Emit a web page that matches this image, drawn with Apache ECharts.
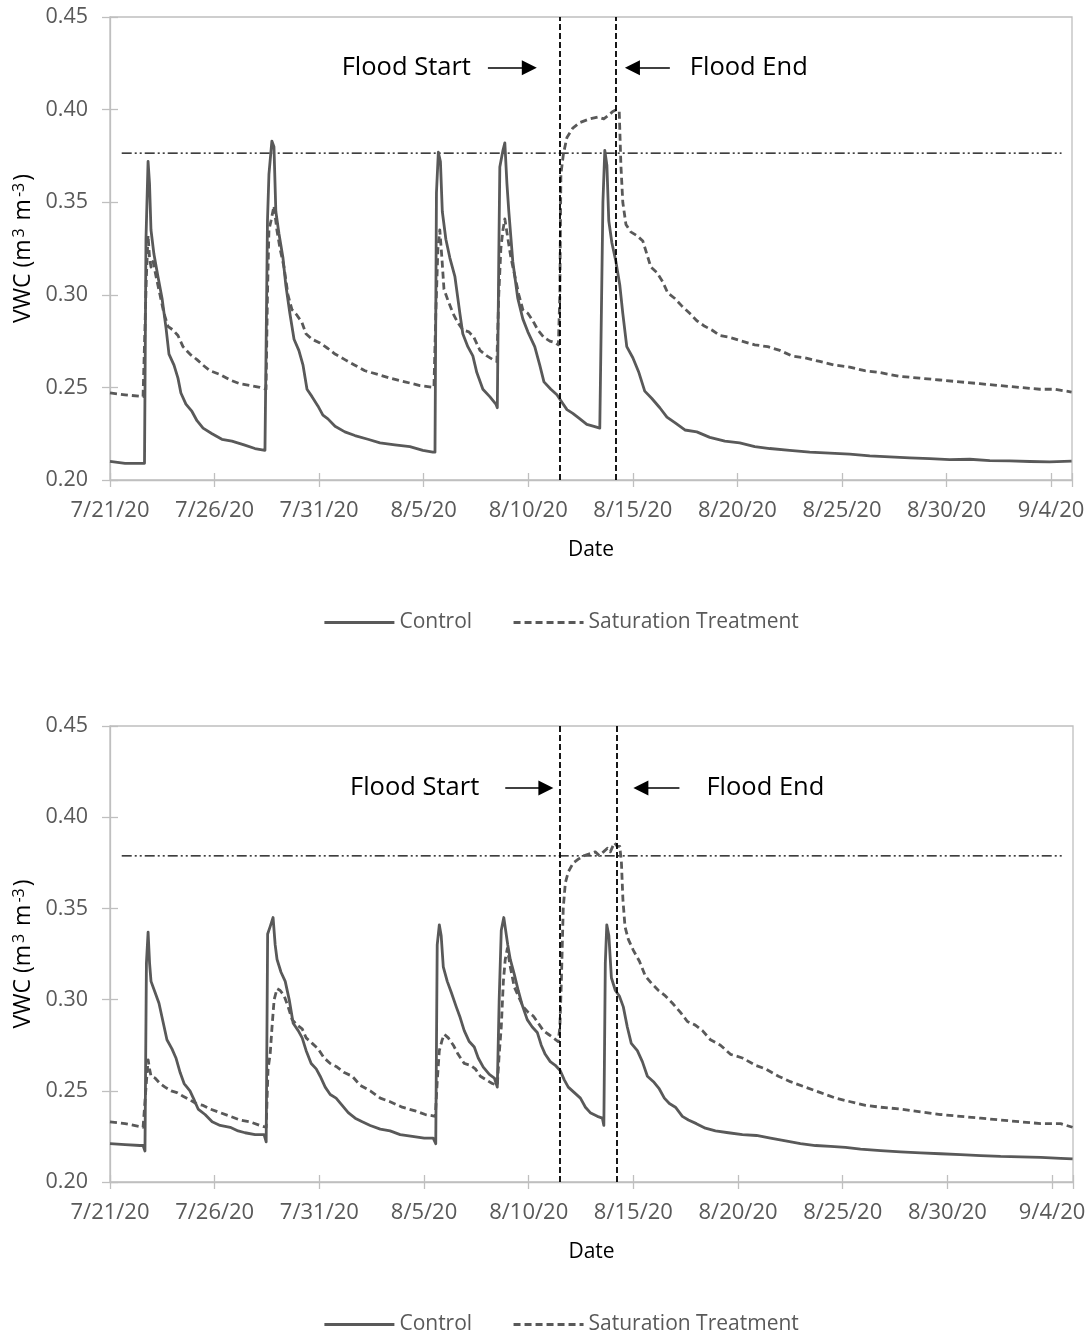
<!DOCTYPE html>
<html>
<head>
<meta charset="utf-8">
<script src="https://cdn.jsdelivr.net/npm/echarts@6/dist/echarts.min.js"></script>
<style>
html,body{margin:0;padding:0;background:#fff;}
#chart{width:1091px;height:1333px;}
</style>
</head>
<body>
<div id="chart"></div>
<script>
// ---------- DATA (x = days since 7/21/20 00:00, y = VWC m3 m-3) ----------
const xTickLabels = ['7/21/20','7/26/20','7/31/20','8/5/20','8/10/20','8/15/20','8/20/20','8/25/20','8/30/20','9/4/20'];
const seriesNames = ['Control', 'Saturation Treatment'];
const floodDays = [21.5, 24.2];            // flood start / flood end
const saturationLevel = [0.3765, 0.3788];  // top panel, bottom panel
const refLineDays = [0.56, 45.5];

const topControl = [
[0,0.210],[0.72,0.209],[1.53,0.209],[1.65,0.209],[1.72,0.33],[1.82,0.372],[1.89,0.36],[1.96,0.335],[2.10,0.322],[2.29,0.31],[2.49,0.298],[2.68,0.282],[2.82,0.268],[3.06,0.262],[3.25,0.255],[3.39,0.247],[3.63,0.241],[3.92,0.237],[4.16,0.232],[4.45,0.228],[4.88,0.225],[5.35,0.222],[5.83,0.221],[6.41,0.219],[6.93,0.217],[7.41,0.216],
[7.48,0.216],[7.53,0.34],[7.60,0.365],[7.74,0.383],[7.84,0.38],[7.93,0.345],[8.08,0.333],[8.27,0.32],[8.41,0.305],[8.60,0.29],[8.80,0.276],[9.03,0.27],[9.23,0.262],[9.42,0.249],[9.66,0.245],[9.94,0.240],[10.18,0.235],[10.42,0.233],[10.76,0.229],[11.23,0.226],[11.71,0.224],[12.33,0.222],[12.91,0.220],[13.62,0.219],[14.34,0.218],[14.96,0.216],[15.44,0.215],
[15.54,0.215],[15.61,0.355],[15.70,0.377],[15.80,0.372],[15.89,0.345],[16.06,0.33],[16.25,0.32],[16.49,0.31],[16.73,0.29],[16.87,0.279],[17.11,0.272],[17.35,0.267],[17.54,0.258],[17.83,0.249],[18.16,0.245],[18.45,0.241],[18.52,0.239],
[18.59,0.32],[18.64,0.369],[18.79,0.378],[18.88,0.382],[18.98,0.36],[19.07,0.345],[19.26,0.318],[19.50,0.298],[19.74,0.287],[19.98,0.280],[20.31,0.272],[20.55,0.262],[20.75,0.253],[21.08,0.249],[21.37,0.246],[21.61,0.242],[21.85,0.238],[22.13,0.236],[22.47,0.233],[22.80,0.230],[23.14,0.229],[23.42,0.228],[23.49,0.227],
[23.57,0.35],[23.66,0.378],[23.76,0.37],[23.85,0.34],[24.00,0.328],[24.19,0.318],[24.38,0.305],[24.52,0.29],[24.71,0.272],[25.00,0.266],[25.29,0.258],[25.57,0.248],[25.91,0.244],[26.29,0.239],[26.63,0.234],[27.01,0.231],[27.49,0.227],[28.06,0.226],[28.68,0.223],[29.40,0.221],[30.11,0.220],[30.83,0.218],[31.55,0.217],[32.50,0.216],[33.46,0.215],[34.42,0.2145],[35.37,0.214],[36.33,0.213],[37.28,0.2125],[38.24,0.212],[39.20,0.2115],[40.15,0.211],[41.11,0.2112],[42.07,0.2105],[43.02,0.2103],[43.98,0.210],[44.93,0.2098],[45.98,0.2102]
];

const topSaturation = [
[0,0.247],[0.72,0.246],[1.58,0.245],[1.67,0.246],[1.74,0.31],[1.82,0.332],[1.89,0.32],[1.96,0.315],[2.06,0.318],[2.20,0.31],[2.39,0.30],[2.58,0.29],[2.77,0.283],[3.01,0.281],[3.25,0.278],[3.49,0.272],[3.82,0.268],[4.16,0.265],[4.45,0.262],[4.78,0.259],[5.26,0.257],[5.74,0.254],[6.21,0.252],[6.69,0.251],[7.17,0.250],[7.46,0.249],
[7.53,0.30],[7.60,0.335],[7.70,0.34],[7.84,0.348],[7.98,0.335],[8.13,0.325],[8.32,0.315],[8.51,0.30],[8.70,0.292],[8.94,0.289],[9.18,0.285],[9.37,0.279],[9.66,0.276],[10.04,0.274],[10.42,0.271],[10.76,0.268],[11.23,0.265],[11.71,0.262],[12.19,0.259],[12.81,0.257],[13.38,0.255],[14.10,0.253],[14.82,0.251],[15.49,0.250],
[15.58,0.29],[15.68,0.325],[15.77,0.335],[15.87,0.32],[15.97,0.303],[16.16,0.297],[16.40,0.29],[16.63,0.285],[16.87,0.281],[17.16,0.28],[17.40,0.277],[17.69,0.27],[18.02,0.267],[18.31,0.265],[18.50,0.264],
[18.59,0.30],[18.69,0.325],[18.79,0.335],[18.88,0.341],[19.03,0.33],[19.17,0.32],[19.36,0.31],[19.55,0.30],[19.74,0.292],[19.98,0.29],[20.22,0.286],[20.46,0.281],[20.75,0.277],[21.03,0.275],[21.32,0.274],[21.44,0.273],
[21.51,0.30],[21.56,0.365],[21.68,0.376],[21.85,0.385],[22.13,0.390],[22.47,0.393],[22.94,0.395],[23.33,0.396],[23.61,0.395],[23.85,0.397],[24.04,0.399],[24.23,0.400],[24.35,0.399],[24.43,0.37],[24.52,0.35],[24.67,0.338],[24.90,0.334],[25.19,0.332],[25.48,0.329],[25.67,0.322],[25.86,0.315],[26.15,0.312],[26.43,0.307],[26.67,0.301],[27.01,0.298],[27.34,0.294],[27.72,0.290],[28.06,0.286],[28.44,0.283],[28.78,0.281],[29.16,0.278],[29.64,0.277],[30.21,0.275],[30.83,0.273],[31.45,0.272],[32.03,0.270],[32.60,0.267],[33.22,0.266],[33.94,0.264],[34.66,0.262],[35.37,0.261],[36.09,0.259],[36.81,0.258],[37.76,0.256],[38.72,0.255],[39.67,0.254],[40.63,0.253],[41.59,0.252],[42.54,0.251],[43.50,0.250],[44.46,0.249],[45.17,0.249],[45.98,0.2475]
];

const bottomControl = [
[0,0.221],[0.72,0.2205],[1.43,0.220],[1.58,0.220],[1.67,0.217],[1.74,0.32],[1.82,0.337],[1.89,0.32],[1.96,0.31],[2.15,0.304],[2.34,0.298],[2.53,0.288],[2.72,0.278],[2.96,0.273],[3.15,0.268],[3.35,0.26],[3.54,0.254],[3.82,0.25],[4.02,0.245],[4.21,0.24],[4.54,0.237],[4.88,0.233],[5.26,0.231],[5.74,0.230],[6.12,0.228],[6.45,0.227],[6.93,0.226],[7.36,0.226],[7.46,0.222],
[7.53,0.336],[7.65,0.340],[7.79,0.345],[7.89,0.33],[7.98,0.322],[8.17,0.315],[8.37,0.31],[8.56,0.30],[8.75,0.287],[8.99,0.283],[9.18,0.279],[9.37,0.272],[9.61,0.265],[9.85,0.262],[10.04,0.258],[10.28,0.252],[10.52,0.248],[10.80,0.246],[11.09,0.242],[11.38,0.238],[11.71,0.235],[12.05,0.233],[12.43,0.231],[12.91,0.229],[13.38,0.228],[13.86,0.226],[14.44,0.225],[15.01,0.224],[15.44,0.224],[15.56,0.221],
[15.63,0.33],[15.73,0.341],[15.82,0.335],[15.92,0.318],[16.11,0.31],[16.30,0.304],[16.54,0.296],[16.73,0.29],[16.92,0.283],[17.16,0.277],[17.40,0.274],[17.59,0.268],[17.83,0.263],[18.12,0.259],[18.36,0.257],[18.50,0.252],
[18.59,0.30],[18.69,0.338],[18.81,0.345],[18.90,0.346],[19.00,0.33],[19.12,0.322],[19.31,0.314],[19.50,0.305],[19.69,0.297],[19.93,0.289],[20.17,0.285],[20.41,0.282],[20.60,0.275],[20.79,0.27],[21.03,0.266],[21.27,0.264],[21.51,0.261],[21.70,0.256],[21.89,0.252],[22.18,0.249],[22.47,0.246],[22.71,0.241],[22.94,0.238],[23.28,0.236],[23.52,0.235],[23.59,0.231],
[23.66,0.32],[23.73,0.341],[23.83,0.335],[23.95,0.312],[24.14,0.305],[24.33,0.302],[24.52,0.296],[24.71,0.285],[24.90,0.276],[25.19,0.272],[25.43,0.266],[25.67,0.258],[25.96,0.255],[26.24,0.251],[26.48,0.246],[26.72,0.243],[27.01,0.241],[27.34,0.236],[27.63,0.234],[28.01,0.232],[28.44,0.2295],[28.92,0.228],[29.54,0.227],[30.21,0.226],[30.88,0.2255],[31.55,0.224],[32.27,0.2225],[32.98,0.221],[33.70,0.220],[34.42,0.2195],[35.13,0.219],[35.85,0.218],[36.81,0.2172],[37.76,0.2165],[38.72,0.216],[39.67,0.2155],[40.63,0.215],[41.59,0.2145],[42.54,0.214],[43.50,0.2138],[44.46,0.2135],[45.41,0.213],[45.98,0.2127]
];

const bottomSaturation = [
[0,0.233],[0.72,0.232],[1.58,0.230],[1.67,0.229],[1.74,0.255],[1.82,0.267],[1.89,0.262],[1.96,0.258],[2.15,0.257],[2.39,0.254],[2.63,0.252],[2.92,0.25],[3.20,0.249],[3.49,0.247],[3.82,0.245],[4.11,0.243],[4.45,0.242],[4.78,0.24],[5.26,0.238],[5.74,0.236],[6.21,0.234],[6.69,0.233],[7.17,0.231],[7.46,0.230],
[7.55,0.262],[7.65,0.27],[7.74,0.285],[7.84,0.30],[7.98,0.306],[8.13,0.305],[8.32,0.302],[8.51,0.296],[8.70,0.289],[8.94,0.286],[9.18,0.284],[9.37,0.279],[9.66,0.276],[9.94,0.273],[10.23,0.268],[10.52,0.265],[10.85,0.263],[11.19,0.26],[11.57,0.258],[11.95,0.253],[12.43,0.250],[12.91,0.246],[13.38,0.244],[13.96,0.241],[14.58,0.239],[15.06,0.237],[15.54,0.236],
[15.63,0.255],[15.73,0.272],[15.87,0.278],[15.97,0.281],[16.16,0.279],[16.40,0.275],[16.63,0.270],[16.92,0.265],[17.21,0.264],[17.45,0.262],[17.69,0.258],[17.97,0.256],[18.26,0.254],[18.50,0.253],
[18.59,0.27],[18.69,0.285],[18.79,0.31],[18.88,0.322],[18.98,0.328],[19.12,0.318],[19.31,0.307],[19.50,0.302],[19.74,0.296],[19.98,0.293],[20.22,0.291],[20.46,0.287],[20.70,0.283],[20.94,0.281],[21.18,0.279],[21.41,0.277],
[21.49,0.285],[21.56,0.31],[21.65,0.35],[21.75,0.364],[21.89,0.370],[22.13,0.375],[22.37,0.377],[22.66,0.379],[22.94,0.380],[23.18,0.381],[23.37,0.379],[23.57,0.381],[23.76,0.383],[23.90,0.381],[24.09,0.386],[24.23,0.384],[24.35,0.384],[24.43,0.375],[24.50,0.355],[24.60,0.34],[24.76,0.333],[25.00,0.327],[25.29,0.321],[25.57,0.313],[25.86,0.309],[26.20,0.305],[26.53,0.302],[26.87,0.298],[27.25,0.293],[27.58,0.288],[27.96,0.286],[28.30,0.283],[28.68,0.278],[29.16,0.275],[29.64,0.270],[30.21,0.268],[30.83,0.264],[31.31,0.262],[31.93,0.258],[32.50,0.255],[33.22,0.252],[33.94,0.249],[34.66,0.246],[35.37,0.244],[36.09,0.242],[36.81,0.241],[37.76,0.240],[38.72,0.2385],[39.67,0.237],[40.63,0.236],[41.59,0.235],[42.54,0.234],[43.50,0.233],[44.46,0.232],[45.41,0.232],[45.98,0.230]
];

// annotation arrows: [startDay, endDay, vwc] per panel
const annotTop = { start: [18.07, 20.05, 0.4226], end: [26.77, 24.98, 0.4226] };
const annotBottom = { start: [18.88, 20.82, 0.416], end: [27.20, 25.36, 0.416] };

// ---------- STYLE ----------
const FONT = '"Open Sans", "Noto Sans", sans-serif';
const AXIS_GRAY = '#bfbfbf';
const LINE_GRAY = '#595959';
const TEXT_GRAY = '#595959';

function mainX(gi) {
  return {
    gridIndex: gi, type: 'value', min: 0, max: 46, interval: 5, position: 'bottom',
    axisLine: { show: true, onZero: false, lineStyle: { color: AXIS_GRAY, width: 1.3 } },
    axisTick: { show: true, length: 7, lineStyle: { color: AXIS_GRAY, width: 1.3 } },
    axisLabel: {
      margin: 20, fontFamily: FONT, fontSize: 22, color: TEXT_GRAY,
      formatter: v => (Math.abs(v % 5) < 1e-9 && xTickLabels[Math.round(v / 5)]) || ''
    },
    splitLine: { show: false },
    name: 'Date', nameLocation: 'middle', nameGap: 60,
    nameTextStyle: { fontFamily: FONT, fontSize: 21, color: '#000' }
  };
}
function innerX(gi) {
  return {
    gridIndex: gi, type: 'value', min: 0, max: 46, interval: 5, position: 'bottom',
    axisLine: { show: false, onZero: false },
    axisTick: { show: true, inside: true, length: 7, lineStyle: { color: AXIS_GRAY, width: 1.3 } },
    axisLabel: { show: false }, splitLine: { show: false }
  };
}
function mainY(gi) {
  return {
    gridIndex: gi, type: 'value', min: 0.2, max: 0.45, interval: 0.05, position: 'left',
    axisLine: { show: true, onZero: false, lineStyle: { color: AXIS_GRAY, width: 1.3 } },
    axisTick: { show: true, length: 8, lineStyle: { color: AXIS_GRAY, width: 1.3 } },
    axisLabel: { margin: 22, fontFamily: FONT, fontSize: 21.5, color: TEXT_GRAY, formatter: v => v.toFixed(2) },
    splitLine: { show: false },
    name: '{a|VWC (m}{s|3}{a| m}{s|-3}{a|)}', nameLocation: 'middle', nameGap: 65,
    nameTextStyle: {
      fontFamily: FONT, fontSize: 23, color: '#000',
      rich: {
        a: { fontFamily: FONT, fontSize: 23, color: '#000' },
        s: { fontFamily: FONT, fontSize: 16, color: '#000', verticalAlign: 'top', padding: [0, 2, 0, 2] }
      }
    }
  };
}
function innerY(gi) {
  return {
    gridIndex: gi, type: 'value', min: 0.2, max: 0.45, interval: 0.05, position: 'left',
    axisLine: { show: false, onZero: false },
    axisTick: { show: true, inside: true, length: 8, lineStyle: { color: AXIS_GRAY, width: 1.3 } },
    axisLabel: { show: false }, splitLine: { show: false }
  };
}

function arrowPair(a, text, labelDist) {
  return [
    { coord: [a[0], a[2]], symbol: 'none',
      lineStyle: { color: '#000', width: 1.5, type: 'solid' },
      label: { show: true, position: 'start', formatter: text, distance: labelDist,
               padding: [10, 0, 0, 0],
               fontFamily: FONT, fontSize: 25.5, color: '#000' } },
    { coord: [a[1], a[2]], symbol: 'triangle', symbolSize: 15 }
  ];
}

function panelSeries(axisIdx, control, saturation, level, annot, labelDists) {
  return [
    { name: seriesNames[0], type: 'line', xAxisIndex: axisIdx, yAxisIndex: axisIdx, data: control,
      symbol: 'none', showSymbol: false, z: 4,
      lineStyle: { color: LINE_GRAY, width: 2.8, join: 'round' }, itemStyle: { color: LINE_GRAY } },
    { name: seriesNames[1], type: 'line', xAxisIndex: axisIdx, yAxisIndex: axisIdx, data: saturation,
      symbol: 'none', showSymbol: false, z: 3,
      lineStyle: { color: LINE_GRAY, width: 2.8, type: [7, 4], join: 'round' }, itemStyle: { color: LINE_GRAY } },
    { name: 'Saturation level', type: 'line', xAxisIndex: axisIdx, yAxisIndex: axisIdx,
      data: [[refLineDays[0], level], [refLineDays[1], level]],
      symbol: 'none', showSymbol: false, z: 2, silent: true,
      lineStyle: { color: '#000', width: 1.2, type: [10, 3, 2, 3, 2, 3] },
      markLine: {
        silent: true, animation: false, symbol: ['none', 'none'],
        label: { show: false },
        data: [
          { xAxis: floodDays[0], lineStyle: { color: '#000', width: 1.8, type: [6, 3] }, label: { show: false } },
          { xAxis: floodDays[1], lineStyle: { color: '#000', width: 1.8, type: [6, 3] }, label: { show: false } },
          arrowPair(annot.start, 'Flood Start', labelDists[0]),
          arrowPair(annot.end, 'Flood End', labelDists[1])
        ]
      } }
  ];
}

const legendBase = {
  data: seriesNames, left: 323, padding: 0, itemWidth: 70, itemHeight: 14, itemGap: 40, selectedMode: false,
  itemStyle: { opacity: 0 },
  lineStyle: { width: 2.8 },
  textStyle: { fontFamily: FONT, fontSize: 21, color: TEXT_GRAY }
};

const chart = echarts.init(document.getElementById('chart'), null, { renderer: 'canvas' });
chart.setOption({
  animation: false,
  backgroundColor: '#fff',
  grid: [
    { left: 110, right: 19, top: 17, height: 463, show: true, borderColor: AXIS_GRAY, borderWidth: 1.3, backgroundColor: 'transparent', outerBoundsMode: 'none' },
    { left: 110, right: 18, top: 726, height: 456, show: true, borderColor: AXIS_GRAY, borderWidth: 1.3, backgroundColor: 'transparent', outerBoundsMode: 'none' }
  ],
  xAxis: [mainX(0), innerX(0), mainX(1), innerX(1)],
  yAxis: [mainY(0), innerY(0), mainY(1), innerY(1)],
  legend: [
    Object.assign({}, legendBase, { top: 612 }),
    Object.assign({}, legendBase, { top: 1314 })
  ],
  series: [].concat(
    panelSeries(0, topControl, topSaturation, saturationLevel[0], annotTop, [17, 20]),
    panelSeries(2, bottomControl, bottomSaturation, saturationLevel[1], annotBottom, [26, 27])
  )
});
</script>
</body>
</html>
